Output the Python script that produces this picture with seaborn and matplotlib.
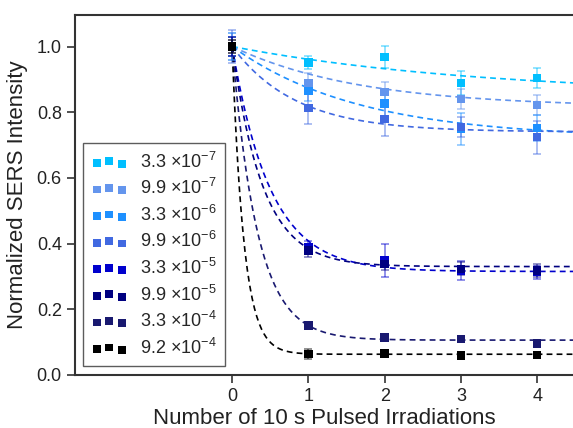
import numpy as np
import pandas as pd
import seaborn as sns
import matplotlib
matplotlib.use("Agg")
import matplotlib.pyplot as plt

# ---- data ----
pulses = [0, 1, 2, 3, 4]
labels = [r"3.3 $\times 10^{-7}$", r"9.9 $\times 10^{-7}$", r"3.3 $\times 10^{-6}$",
          r"9.9 $\times 10^{-6}$", r"3.3 $\times 10^{-5}$", r"9.9 $\times 10^{-5}$",
          r"3.3 $\times 10^{-4}$", r"9.2 $\times 10^{-4}$"]
colors = ["#00BFFF", "#6495ED", "#1E90FF", "#4169E1", "#0000CD", "#000080", "#191970", "#000000"]

s1 = [1.0, 0.951, 0.968, 0.889, 0.904]
s2 = [1.0, 0.889, 0.861, 0.840, 0.822]
s3 = [1.0, 0.865, 0.826, 0.749, 0.752]
s4 = [1.0, 0.813, 0.779, 0.754, 0.724]
s5 = [1.0, 0.389, 0.349, 0.318, 0.313]
s6 = [1.0, 0.379, 0.338, 0.323, 0.318]
s7 = [1.0, 0.150, 0.114, 0.109, 0.096]
s8 = [1.0, 0.063, 0.065, 0.059, 0.061]

e1 = [0.03, 0.019, 0.033, 0.037, 0.030]
e2 = [0.04, 0.03, 0.03, 0.03, 0.03]
e3 = [0.04, 0.03, 0.04, 0.05, 0.04]
e4 = [0.05, 0.05, 0.05, 0.03, 0.05]
e5 = [0.03, 0.02, 0.05, 0.03, 0.02]
e6 = [0.03, 0.02, 0.02, 0.02, 0.02]
e7 = [0.02, 0.01, 0.01, 0.01, 0.005]
e8 = [0.02, 0.015, 0.005, 0.005, 0.005]

# exponential fit parameters: y = plateau + (1 - plateau) * exp(-rate * x)
fit_plateau = [0.85, 0.815, 0.72, 0.74, 0.315, 0.33, 0.106, 0.063]
fit_rate = [0.3, 0.6, 0.6, 1.2, 2.0, 2.5, 3.0, 6.5]

series = [s1, s2, s3, s4, s5, s6, s7, s8]
errors = [e1, e2, e3, e4, e5, e6, e7, e8]

sns.set_style("ticks")
plt.rcParams['font.family'] = ['Liberation Sans', 'DejaVu Sans']
plt.rcParams['mathtext.fontset'] = 'custom'
plt.rcParams['mathtext.rm'] = 'Liberation Sans'
plt.rcParams['mathtext.it'] = 'Liberation Sans:italic'

fig = plt.figure(figsize=(5.73, 4.28), dpi=100)
ax = fig.add_axes([0.131, 0.124, 0.869, 0.841])

xfit = np.linspace(0, 4.6, 300)
for i in range(len(series)):
    yfit = fit_plateau[i] + (1 - fit_plateau[i]) * np.exp(-fit_rate[i] * xfit)
    sns.lineplot(x=xfit, y=yfit, ax=ax, color=colors[i], linestyle=(0, (3.5, 2.5)),
                 linewidth=1.2, zorder=2)

for i in range(len(series)):
    ax.errorbar(pulses, series[i], yerr=errors[i], fmt='none', ecolor=colors[i],
                alpha=0.5, capsize=3, elinewidth=1.2, capthick=1.2, zorder=3)

rows = []
for i in range(len(series)):
    for xv, yv in zip(pulses, series[i]):
        rows.append({"x": xv, "y": yv, "conc": labels[i]})
df = pd.DataFrame(rows)
sns.scatterplot(data=df, x="x", y="y", hue="conc", palette=colors, marker='s', s=36,
                edgecolor='none', ax=ax, legend=False, zorder=4)

handles = [ax.scatter([], [], marker='s', s=32, color=c, edgecolor='none') for c in colors]
leg = ax.legend(handles, labels, scatterpoints=3, loc='lower left',
                bbox_to_anchor=(0.016, 0.025), fontsize=13, frameon=True, fancybox=False,
                edgecolor='#333333', borderpad=0.45, labelspacing=0.36, handletextpad=0.7,
                handlelength=2.0, borderaxespad=0)
leg.get_frame().set_linewidth(1.0)

ax.set_xlim(-2.06, 4.47)
ax.set_ylim(0, 1.096)
ax.set_xticks([0, 1, 2, 3, 4])
ax.set_yticks([0.0, 0.2, 0.4, 0.6, 0.8, 1.0])
ax.set_yticklabels(["0.0", "0.2", "0.4", "0.6", "0.8", "1.0"])
ax.tick_params(axis='both', direction='out', length=6, width=1.2, labelsize=13,
               colors='#333333', labelcolor='#222222')
ax.set_xlabel("Number of 10 s Pulsed Irradiations", fontsize=16, color='#222222', labelpad=2)
ax.set_ylabel("Normalized SERS Intensity", fontsize=16, color='#222222', labelpad=6)
for side in ['left', 'bottom', 'top']:
    ax.spines[side].set_linewidth(1.5)
    ax.spines[side].set_color('#333333')
ax.spines['right'].set_visible(False)

fig.savefig("out.png", dpi=100)
